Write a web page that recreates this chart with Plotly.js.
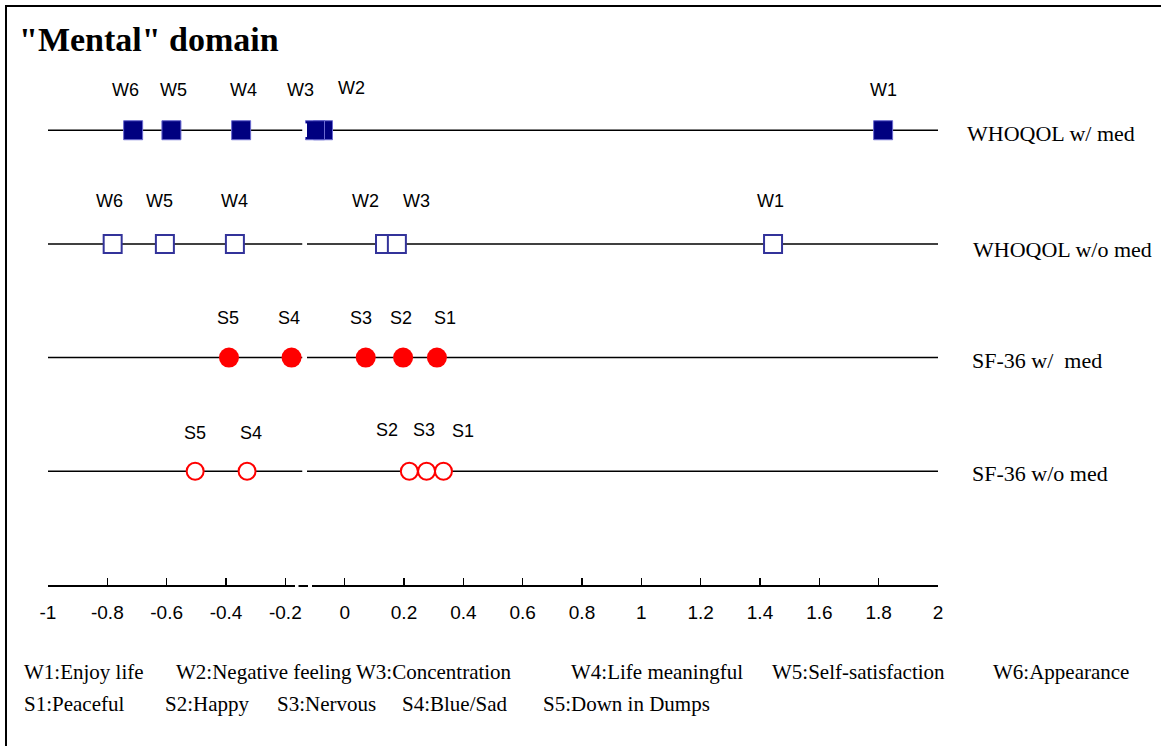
<!DOCTYPE html>
<html>
<head>
<meta charset="utf-8">
<script src="https://cdn.plot.ly/plotly-3.0.1.min.js"></script>
<style>
  html, body { margin: 0; padding: 0; background: #fff; overflow: hidden; }
  #wrap { position: relative; width: 1161px; height: 746px; overflow: hidden; }
  #chart { position: absolute; left: 0; top: 0; width: 1161px; height: 746px; }
  #frame { position: absolute; left: 5px; top: 5px; width: 1300px; height: 900px;
           border-left: 2px solid #000; border-top: 2px solid #000; pointer-events: none; }
</style>
</head>
<body>
<div id="wrap"><div id="chart"></div><div id="frame"></div></div>
<script>
// ---- data ----
const chartTitle = '"Mental" domain';
const seriesNames = ['WHOQOL w/ med', 'WHOQOL w/o med', 'SF-36 w/  med', 'SF-36 w/o med'];
const seriesRows = [4, 3, 2, 1];

const wLabels = ['W1', 'W2', 'W3', 'W4', 'W5', 'W6'];
const whoqolWithMed = [1.815, -0.073, -0.100, -0.349, -0.584, -0.713];
const whoqolWithoutMed = [1.444, 0.136, 0.176, -0.370, -0.606, -0.782];

const sLabels = ['S1', 'S2', 'S3', 'S4', 'S5'];
const sf36WithMed = [0.311, 0.197, 0.071, -0.179, -0.390];
const sf36WithoutMed = [0.333, 0.218, 0.276, -0.329, -0.504];

const tickVals = [-1, -0.8, -0.6, -0.4, -0.2, 0, 0.2, 0.4, 0.6, 0.8, 1, 1.2, 1.4, 1.6, 1.8, 2];
const tickText = ['-1', '-0.8', '-0.6', '-0.4', '-0.2', '0', '0.2', '0.4', '0.6', '0.8', '1', '1.2', '1.4', '1.6', '1.8', '2'];

const legendLine1 = ['W1:Enjoy life', 'W2:Negative feeling', 'W3:Concentration', 'W4:Life meaningful', 'W5:Self-satisfaction', 'W6:Appearance'];
const legendLine2 = ['S1:Peaceful', 'S2:Happy', 'S3:Nervous', 'S4:Blue/Sad', 'S5:Down in Dumps'];

// ---- styling / layout helpers ----
const plotL = 48, plotR = 938, plotB = 585, plotT = 62;
const px2x = px => (px - plotL) / (plotR - plotL);
const py2y = py => (plotB - py) / (plotB - plotT);

const serif = 'Liberation Serif, Times New Roman, serif';
const sans = 'Liberation Sans, Arial, sans-serif';

// label pixel offsets (style) per series, aligned with label arrays
const labelShiftX = [
  [0, 28, -15, 2, 2, -8],
  [-3, -20, 20, 0, -5, -3],
  [8, -2, -5, -3, -1],
  [20, -22, -3, 4, 0]
];
const labelShiftY = [
  [40, 42, 40, 40, 40, 40],
  [43, 43, 43, 43, 43, 43],
  [40, 40, 40, 40, 40],
  [40, 41, 41, 38, 38]
];

const seriesData = [whoqolWithMed, whoqolWithoutMed, sf36WithMed, sf36WithoutMed];
const seriesLabels = [wLabels, wLabels, sLabels, sLabels];
const markerStyles = [
  {symbol: 'square', size: 19, color: '#000080', line: {color: '#6a6ad0', width: 1}},
  {symbol: 'square', size: 18, color: '#ffffff', line: {color: '#33339a', width: 2}},
  {symbol: 'circle', size: 20, color: '#ff0000', line: {color: '#ff0000', width: 0}},
  {symbol: 'circle', size: 17, color: '#ffffff', line: {color: '#ff0000', width: 2}}
];

const traces = seriesData.map((vals, i) => ({
  type: 'scatter',
  mode: 'markers',
  x: vals,
  y: vals.map(() => seriesRows[i]),
  marker: markerStyles[i],
  hoverinfo: 'x+text',
  text: seriesLabels[i],
  showlegend: false,
  cliponaxis: false
}));

const shapes = [];
seriesRows.forEach(r => {
  shapes.push({type: 'line', xref: 'paper', x0: 0, x1: 1, yref: 'y', y0: r, y1: r,
               line: {color: '#000', width: 1.5}, layer: 'below'});
  // axis-break gap on each row
  shapes.push({type: 'rect', xref: 'x', x0: -0.143, x1: -0.127, yref: 'y', y0: r - 0.06, y1: r + 0.06,
               fillcolor: '#ffffff', line: {width: 0}, layer: 'above'});
});
// axis-break on the x axis line
shapes.push({type: 'rect', xref: 'x', x0: -0.1674, x1: -0.1556, yref: 'paper', y0: -0.01, y1: 0.01,
             fillcolor: '#ffffff', line: {width: 0}, layer: 'above'});
shapes.push({type: 'rect', xref: 'x', x0: -0.1236, x1: -0.1101, yref: 'paper', y0: -0.01, y1: 0.01,
             fillcolor: '#ffffff', line: {width: 0}, layer: 'above'});

const annotations = [];
seriesData.forEach((vals, i) => {
  vals.forEach((v, j) => {
    annotations.push({
      x: v, y: seriesRows[i], xref: 'x', yref: 'y',
      text: seriesLabels[i][j], showarrow: false,
      xshift: labelShiftX[i][j], yshift: labelShiftY[i][j],
      font: {family: sans, size: 18, color: '#000'}
    });
  });
});

const nameLeftPx = [965, 971, 970, 970];
const nameShift = [-3, -6, -3, -2];
seriesNames.forEach((n, i) => {
  annotations.push({
    x: px2x(nameLeftPx[i]), xref: 'paper', xanchor: 'left',
    y: seriesRows[i], yref: 'y', yshift: nameShift[i],
    text: n, showarrow: false,
    font: {family: serif, size: 22, color: '#000'}
  });
});

// title
annotations.push({
  x: px2x(17), xref: 'paper', xanchor: 'left',
  y: py2y(40), yref: 'paper', yanchor: 'middle',
  text: '<b>' + chartTitle + '</b>', showarrow: false,
  font: {family: serif, size: 34, color: '#000'}
});

// bottom legend text
const line1Px = [22, 174, 354, 569, 770, 991];
const line2Px = [22, 163, 275, 400, 541];
legendLine1.forEach((t, k) => annotations.push({
  x: px2x(line1Px[k]), xref: 'paper', xanchor: 'left',
  y: py2y(672), yref: 'paper', yanchor: 'middle',
  text: t, showarrow: false, font: {family: serif, size: 21, color: '#000'}
}));
legendLine2.forEach((t, k) => annotations.push({
  x: px2x(line2Px[k]), xref: 'paper', xanchor: 'left',
  y: py2y(704), yref: 'paper', yanchor: 'middle',
  text: t, showarrow: false, font: {family: serif, size: 21, color: '#000'}
}));

const layout = {
  width: 1161, height: 746,
  margin: {l: plotL, r: 1161 - plotR, t: plotT, b: 746 - plotB, pad: 0},
  paper_bgcolor: '#ffffff', plot_bgcolor: '#ffffff',
  showlegend: false,
  xaxis: {
    range: [-1, 2], tickmode: 'array', tickvals: tickVals, ticktext: tickText,
    showgrid: false, zeroline: false, showline: true, linecolor: '#000', linewidth: 2,
    ticks: 'inside', ticklen: 7, tickwidth: 1.5, tickcolor: '#000',
    tickfont: {family: sans, size: 19, color: '#000'},
    ticklabelstandoff: 9, fixedrange: true
  },
  yaxis: {range: [0, 4.6], visible: false, showgrid: false, zeroline: false, fixedrange: true},
  shapes: shapes,
  annotations: annotations
};

Plotly.newPlot('chart', traces, layout, {displayModeBar: false, staticPlot: true});
</script>
</body>
</html>
